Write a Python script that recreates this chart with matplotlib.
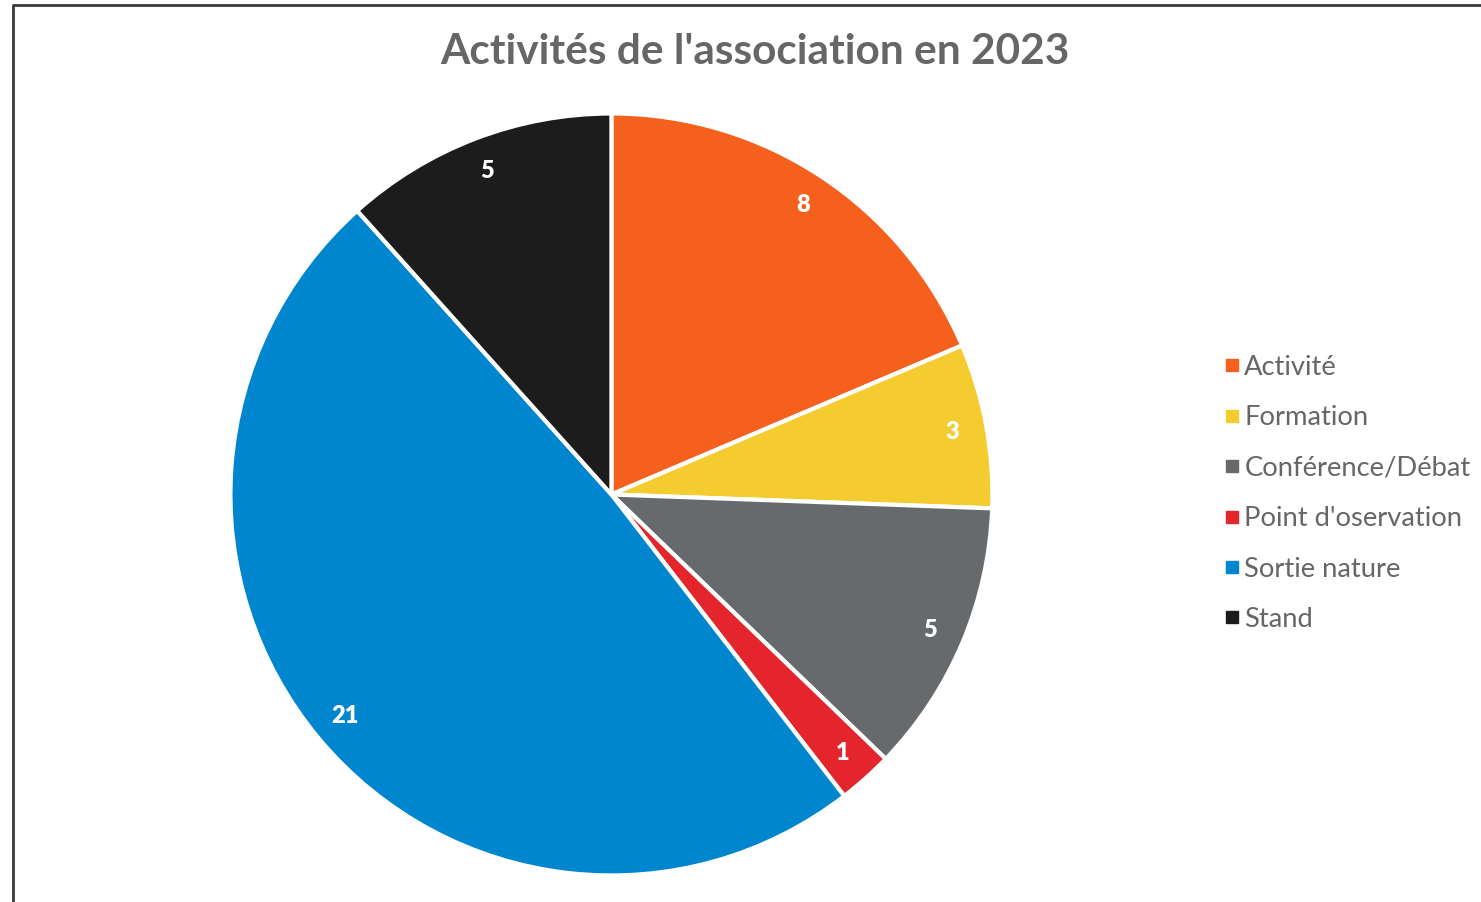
import matplotlib.pyplot as plt
from matplotlib.lines import Line2D

# DATA
categories = ['Activité', 'Formation', 'Conférence/Débat', "Point d'oservation", 'Sortie nature', 'Stand']
values = [8, 3, 5, 1, 21, 5]
colors = ['#F5601D', '#F4CC30', '#666A6D', '#E4262C', '#0086CE', '#1C1C1C']

plt.rcParams['font.family'] = ['Lato', 'DejaVu Sans']

fig = plt.figure(figsize=(14.81, 9.02), dpi=100)

# PIE
ax = fig.add_axes([0.1556, 0.0294, 0.5145, 0.8448])
wedges, texts, autotexts = ax.pie(
    values, colors=colors, startangle=90, counterclock=False, radius=1,
    autopct=lambda p: f"{round(p * sum(values) / 100):d}", pctdistance=0.91,
    wedgeprops=dict(edgecolor='white', linewidth=3),
)
for t in autotexts:
    t.set_color('white')
    t.set_fontsize(17)
    t.set_fontweight('heavy')
ax.set_xlim(-1, 1)
ax.set_ylim(-1, 1)
ax.set_aspect('equal')

# TITLE
fig.text(0.51, 0.942, "Activités de l'association en 2023", ha='center', va='center',
         fontsize=30.5, fontweight='bold', color='#666666')

# LEGEND
handles = [Line2D([], [], marker='s', linestyle='none', markersize=8,
                  markerfacecolor=c, markeredgecolor=c) for c in colors]
fig.legend(handles, categories, loc='center left', bbox_to_anchor=(0.818, 0.453),
           frameon=False, fontsize=19.7, labelcolor='#666666', handlelength=0.5,
           handletextpad=0.2, labelspacing=0.93, borderpad=0)

# FRAME
fig.add_artist(Line2D([13 / 1481, 13 / 1481, 1], [0, 1 - 5 / 902, 1 - 5 / 902],
                      transform=fig.transFigure, color='#3a3a3a', linewidth=2))

plt.savefig('out.png', dpi=100)
